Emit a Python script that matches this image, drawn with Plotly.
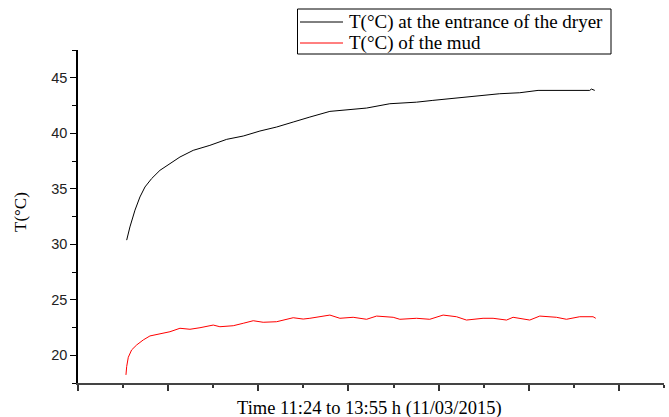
import plotly.graph_objects as go

# x in axis units (one major tick interval = 1 unit), y in °C
entrance_x = [0.540, 0.576, 0.632, 0.687, 0.743, 0.817, 0.909, 1.020, 1.131, 1.278,
              1.463, 1.649, 1.833, 2.018, 2.203, 2.387, 2.461, 2.572, 2.794, 3.016,
              3.201, 3.459, 3.755, 3.936, 4.124, 4.309, 4.493, 4.678, 4.900, 5.011,
              5.103, 5.676, 5.695, 5.732]
entrance_y = [30.37, 31.56, 33.07, 34.26, 35.16, 35.92, 36.66, 37.27, 37.86, 38.46,
              38.91, 39.45, 39.75, 40.20, 40.56, 41.01, 41.20, 41.46, 41.97, 42.15,
              42.27, 42.66, 42.80, 42.96, 43.11, 43.26, 43.35, 43.56, 43.65, 43.74,
              43.86, 43.86, 43.98, 43.86]

mud_x = [0.532, 0.540, 0.558, 0.595, 0.651, 0.724, 0.798, 0.909, 1.020, 1.131,
         1.242, 1.353, 1.500, 1.574, 1.722, 1.833, 1.944, 2.054, 2.203, 2.387,
         2.498, 2.572, 2.794, 2.905, 3.052, 3.201, 3.312, 3.496, 3.570, 3.755,
         3.902, 4.050, 4.198, 4.309, 4.493, 4.604, 4.753, 4.826, 5.011, 5.122,
         5.307, 5.418, 5.565, 5.713, 5.743]
mud_y = [18.23, 18.98, 19.82, 20.48, 20.93, 21.38, 21.74, 21.92, 22.12, 22.43,
         22.34, 22.48, 22.72, 22.57, 22.66, 22.88, 23.11, 22.97, 23.02, 23.38,
         23.26, 23.33, 23.62, 23.33, 23.42, 23.24, 23.53, 23.42, 23.24, 23.33,
         23.24, 23.62, 23.47, 23.17, 23.33, 23.33, 23.17, 23.42, 23.17, 23.53,
         23.42, 23.24, 23.47, 23.47, 23.33]

y_ticks = [20, 25, 30, 35, 40, 45]

series_names = ["T(°C) at the entrance of the dryer", "T(°C) of the mud"]
series_colors = ["black", "#ff0000"]

W, H = 669, 417
L, R, T, B = 78, 5, 50, 34
PW, PH = W - L - R, H - T - B


def px_x(p):
    return (p - L) / PW


def px_y(p):
    return (H - B - p) / PH


fig = go.Figure()
fig.add_trace(go.Scatter(x=entrance_x, y=entrance_y, mode="lines",
                         line=dict(color=series_colors[0], width=1),
                         name=series_names[0]))
fig.add_trace(go.Scatter(x=mud_x, y=mud_y, mode="lines",
                         line=dict(color=series_colors[1], width=1),
                         name=series_names[1]))

# hand-built legend box (matches the reference's compact layout)
shapes = [dict(type="rect", xref="paper", yref="paper",
               x0=px_x(297.5), x1=px_x(611), y0=px_y(54), y1=px_y(9),
               line=dict(color="black", width=1), fillcolor="white", layer="above")]
annotations = []
for i, (nm, col) in enumerate(zip(series_names, series_colors)):
    yy = 22 + 21 * i
    shapes.append(dict(type="line", xref="paper", yref="paper",
                       x0=px_x(300), x1=px_x(343), y0=px_y(yy), y1=px_y(yy),
                       line=dict(color=col, width=1), layer="above"))
    annotations.append(dict(text=nm, xref="paper", yref="paper",
                            x=px_x(347), y=px_y(yy), xanchor="left", yanchor="middle",
                            showarrow=False,
                            font=dict(family="Liberation Serif", size=19, color="black")))

annotations += [
    dict(text="Time 11:24 to 13:55 h (11/03/2015)", xref="paper", yref="paper",
         x=px_x(369), y=px_y(408), xanchor="center", yanchor="middle",
         showarrow=False, font=dict(family="Liberation Serif", size=18.5, color="black")),
    dict(text="T(°C)", xref="paper", yref="paper", textangle=-90,
         x=px_x(20), y=px_y(212), xanchor="center", yanchor="middle",
         showarrow=False, font=dict(family="Liberation Serif", size=17, color="black")),
]

fig.update_layout(
    width=W, height=H,
    margin=dict(l=L, r=R, t=T, b=B, autoexpand=False),
    paper_bgcolor="white", plot_bgcolor="white",
    showlegend=False,
    xaxis=dict(range=[0, 6.5], showline=True, linecolor="#444", linewidth=2,
               ticks="outside", ticklen=6, tickwidth=1.5, tickcolor="#333",
               dtick=1, tick0=0, showticklabels=False, showgrid=False, zeroline=False,
               automargin=False,
               minor=dict(ticks="outside", ticklen=3, tickwidth=1.5, tickcolor="#333",
                          dtick=0.5, showgrid=False)),
    yaxis=dict(range=[17.5, 47.5], showline=True, linecolor="black", linewidth=1.5,
               ticks="outside", ticklen=6, tickwidth=1.2, tickcolor="black",
               tickvals=y_ticks, showgrid=False, zeroline=False, automargin=False,
               tickfont=dict(family="Liberation Sans", size=14.5, color="#222"),
               minor=dict(ticks="outside", ticklen=4, tickwidth=1.2, tickcolor="black",
                          dtick=2.5, tick0=17.5, showgrid=False)),
    shapes=shapes,
    annotations=annotations,
)

fig.write_html("out.html", config=dict(displayModeBar=False),
               post_script="document.body.style.margin='0';document.body.style.overflow='hidden';")
